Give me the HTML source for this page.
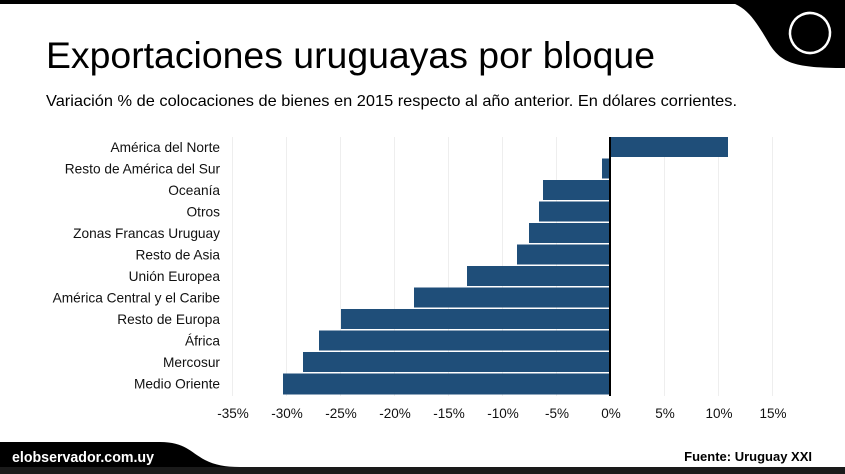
<!DOCTYPE html>
<html><head><meta charset="utf-8"><style>
html,body{margin:0;padding:0;background:#fff;}
svg{display:block;font-family:"Liberation Sans",Arial,sans-serif;}
</style></head><body>
<svg width="845" height="474" viewBox="0 0 845 474" xmlns="http://www.w3.org/2000/svg">
<rect x="0" y="0" width="845" height="4" fill="#000"/>
<path d="M715,0 C745,0 755,20 770,45 C782,63 795,68 845,68 L845,0 Z" fill="#000"/>
<ellipse cx="810" cy="33" rx="20" ry="20" fill="none" stroke="#fff" stroke-width="2.5" transform="rotate(20 810 33)"/>
<text x="46" y="68" font-size="37.5" fill="#000" textLength="609" lengthAdjust="spacingAndGlyphs">Exportaciones uruguayas por bloque</text>
<text x="46" y="106" font-size="16" fill="#000" textLength="691" lengthAdjust="spacingAndGlyphs">Variación % de colocaciones de bienes en 2015 respecto al año anterior. En dólares corrientes.</text>
<g stroke="#eeeeee" stroke-width="1">
<line x1="232.5" y1="137" x2="232.5" y2="396"/>
<line x1="286.5" y1="137" x2="286.5" y2="396"/>
<line x1="340.5" y1="137" x2="340.5" y2="396"/>
<line x1="394.5" y1="137" x2="394.5" y2="396"/>
<line x1="448.5" y1="137" x2="448.5" y2="396"/>
<line x1="502.5" y1="137" x2="502.5" y2="396"/>
<line x1="556.5" y1="137" x2="556.5" y2="396"/>
<line x1="664.5" y1="137" x2="664.5" y2="396"/>
<line x1="718.5" y1="137" x2="718.5" y2="396"/>
<line x1="772.5" y1="137" x2="772.5" y2="396"/>
</g>
<g fill="#1f4e79">
<rect x="610" y="137" width="118" height="20"/>
<rect x="602" y="158.5" width="8" height="20"/>
<rect x="543" y="180" width="67" height="20"/>
<rect x="539" y="201.5" width="71" height="20"/>
<rect x="529" y="223" width="81" height="20"/>
<rect x="517" y="244.5" width="93" height="20"/>
<rect x="467" y="266" width="143" height="20"/>
<rect x="414" y="287.5" width="196" height="20"/>
<rect x="341" y="309" width="269" height="20"/>
<rect x="319" y="330.5" width="291" height="20"/>
<rect x="303" y="352" width="307" height="20"/>
<rect x="283" y="373.5" width="327" height="21"/>
</g>
<rect x="609" y="137" width="2" height="259" fill="#000"/>
<g font-size="13.7" fill="#111" text-anchor="end">
<text x="220" y="152">América del Norte</text>
<text x="220" y="173.5">Resto de América del Sur</text>
<text x="220" y="195">Oceanía</text>
<text x="220" y="216.5">Otros</text>
<text x="220" y="238">Zonas Francas Uruguay</text>
<text x="220" y="259.5">Resto de Asia</text>
<text x="220" y="281">Unión Europea</text>
<text x="220" y="302.5">América Central y el Caribe</text>
<text x="220" y="324">Resto de Europa</text>
<text x="220" y="345.5">África</text>
<text x="220" y="367">Mercosur</text>
<text x="220" y="388.5">Medio Oriente</text>
</g>
<g font-size="13.5" fill="#111" text-anchor="middle">
<text x="233" y="418">-35%</text>
<text x="287" y="418">-30%</text>
<text x="341" y="418">-25%</text>
<text x="395" y="418">-20%</text>
<text x="449" y="418">-15%</text>
<text x="503" y="418">-10%</text>
<text x="557" y="418">-5%</text>
<text x="611" y="418">0%</text>
<text x="665" y="418">5%</text>
<text x="719" y="418">10%</text>
<text x="773" y="418">15%</text>
</g>
<path d="M0,442 L160,442 C185,442 190,452 205,460 C215,465 225,467 240,467 L845,467 L845,474 L0,474 Z" fill="#000"/>
<rect x="0" y="467" width="845" height="7" fill="#1a1a1a"/>
<text x="12" y="462" font-size="15" font-weight="bold" fill="#fff" textLength="142" lengthAdjust="spacingAndGlyphs">elobservador.com.uy</text>
<text x="812" y="461" font-size="13" font-weight="bold" fill="#000" text-anchor="end">Fuente: Uruguay XXI</text>
</svg>
</body></html>
